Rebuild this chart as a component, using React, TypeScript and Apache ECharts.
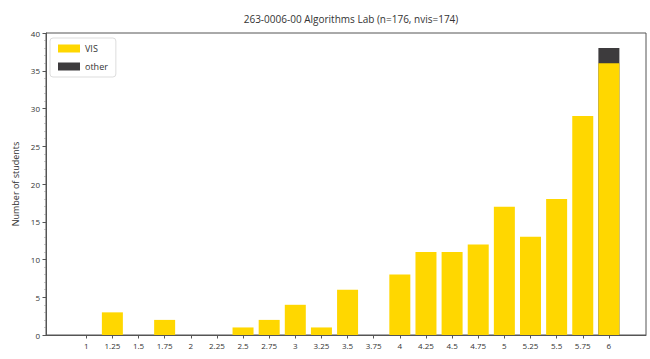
import React, { useEffect, useRef } from "react";
import * as echarts from "echarts";

const grades = [1, 1.25, 1.5, 1.75, 2, 2.25, 2.5, 2.75, 3, 3.25, 3.5, 3.75, 4, 4.25, 4.5, 4.75, 5, 5.25, 5.5, 5.75, 6];
const visCounts = [0, 3, 0, 2, 0, 0, 1, 2, 4, 1, 6, 0, 8, 11, 11, 12, 17, 13, 18, 29, 36];
const otherCounts = [0, 0, 0, 0, 0, 0, 0, 0, 0, 0, 0, 0, 0, 0, 0, 0, 0, 0, 0, 0, 2];
const yTicks = [0, 5, 10, 15, 20, 25, 30, 35, 40];
const titleText = "263-0006-00 Algorithms Lab (n=176, nvis=174)";

const FONT = "'Open Sans', 'Noto Sans', sans-serif";

export default function App() {
  const ref = useRef<HTMLDivElement>(null);
  useEffect(() => {
    if (!ref.current) return;
    const chart = echarts.init(ref.current, null, { renderer: "svg" });
    // "other" is stacked on top of "VIS": draw its top at vis+other behind the VIS bar
    const otherTop = grades.map((g, i) => [g, otherCounts[i] > 0 ? visCounts[i] + otherCounts[i] : 0]);
    chart.setOption({
      animation: false,
      textStyle: { fontFamily: FONT },
      title: {
        text: titleText,
        left: 346,
        textAlign: "center",
        top: 9,
        textStyle: { fontSize: 10, fontWeight: "normal", color: "#333", fontFamily: FONT },
      },
      legend: {
        left: 50,
        top: 38,
        orient: "vertical",
        itemWidth: 22,
        itemHeight: 8,
        itemGap: 9,
        padding: [6, 8, 6, 8],
        borderColor: "#dddddd",
        borderWidth: 1,
        borderRadius: 3,
        textStyle: { fontSize: 9, color: "#333", fontFamily: FONT },
        data: [
          { name: "VIS", icon: "rect" },
          { name: "other", icon: "rect" },
        ],
      },
      grid: {
        left: 46,
        right: 4,
        top: 33,
        bottom: 24,
        show: true,
        borderColor: "#555",
        borderWidth: 1,
        backgroundColor: "transparent",
      },
      xAxis: {
        type: "value",
        min: 0.615,
        max: 6.355,
        splitLine: { show: false },
        axisLine: { show: true, lineStyle: { color: "#555" } },
        axisTick: {
          show: true,
          inside: false,
          length: 3.5,
          customValues: grades,
          lineStyle: { color: "#555" },
        },
        axisLabel: {
          customValues: grades,
          formatter: (v: number) => String(v),
          fontSize: 8,
          color: "#333",
          margin: 6,
          fontFamily: FONT,
        },
      },
      yAxis: {
        type: "value",
        min: 0,
        max: 40,
        interval: 5,
        name: "Number of students",
        nameLocation: "middle",
        nameGap: 24,
        nameTextStyle: { fontSize: 9, color: "#333", fontFamily: FONT },
        splitLine: { show: false },
        axisLine: { show: true, lineStyle: { color: "#555" } },
        axisTick: { show: true, inside: false, length: 3.5, lineStyle: { color: "#555" } },
        minorTick: { show: true, splitNumber: 5, length: 1.5, lineStyle: { color: "#999" } },
        axisLabel: {
          customValues: yTicks,
          fontSize: 8,
          color: "#333",
          margin: 6,
          fontFamily: FONT,
        },
      },
      series: [
        {
          name: "other",
          type: "bar",
          barWidth: 21,
          barGap: "-100%",
          z: 1,
          itemStyle: { color: "#3d3b3d" },
          data: otherTop,
        },
        {
          name: "VIS",
          type: "bar",
          barWidth: 21,
          barGap: "-100%",
          z: 2,
          itemStyle: { color: "#FFD700" },
          data: grades.map((g, i) => [g, visCounts[i]]),
        },
      ],
    });
    return () => chart.dispose();
  }, []);
  return <div ref={ref} style={{ width: 650, height: 359, position: "absolute", left: 0, top: 0 }} />;
}
